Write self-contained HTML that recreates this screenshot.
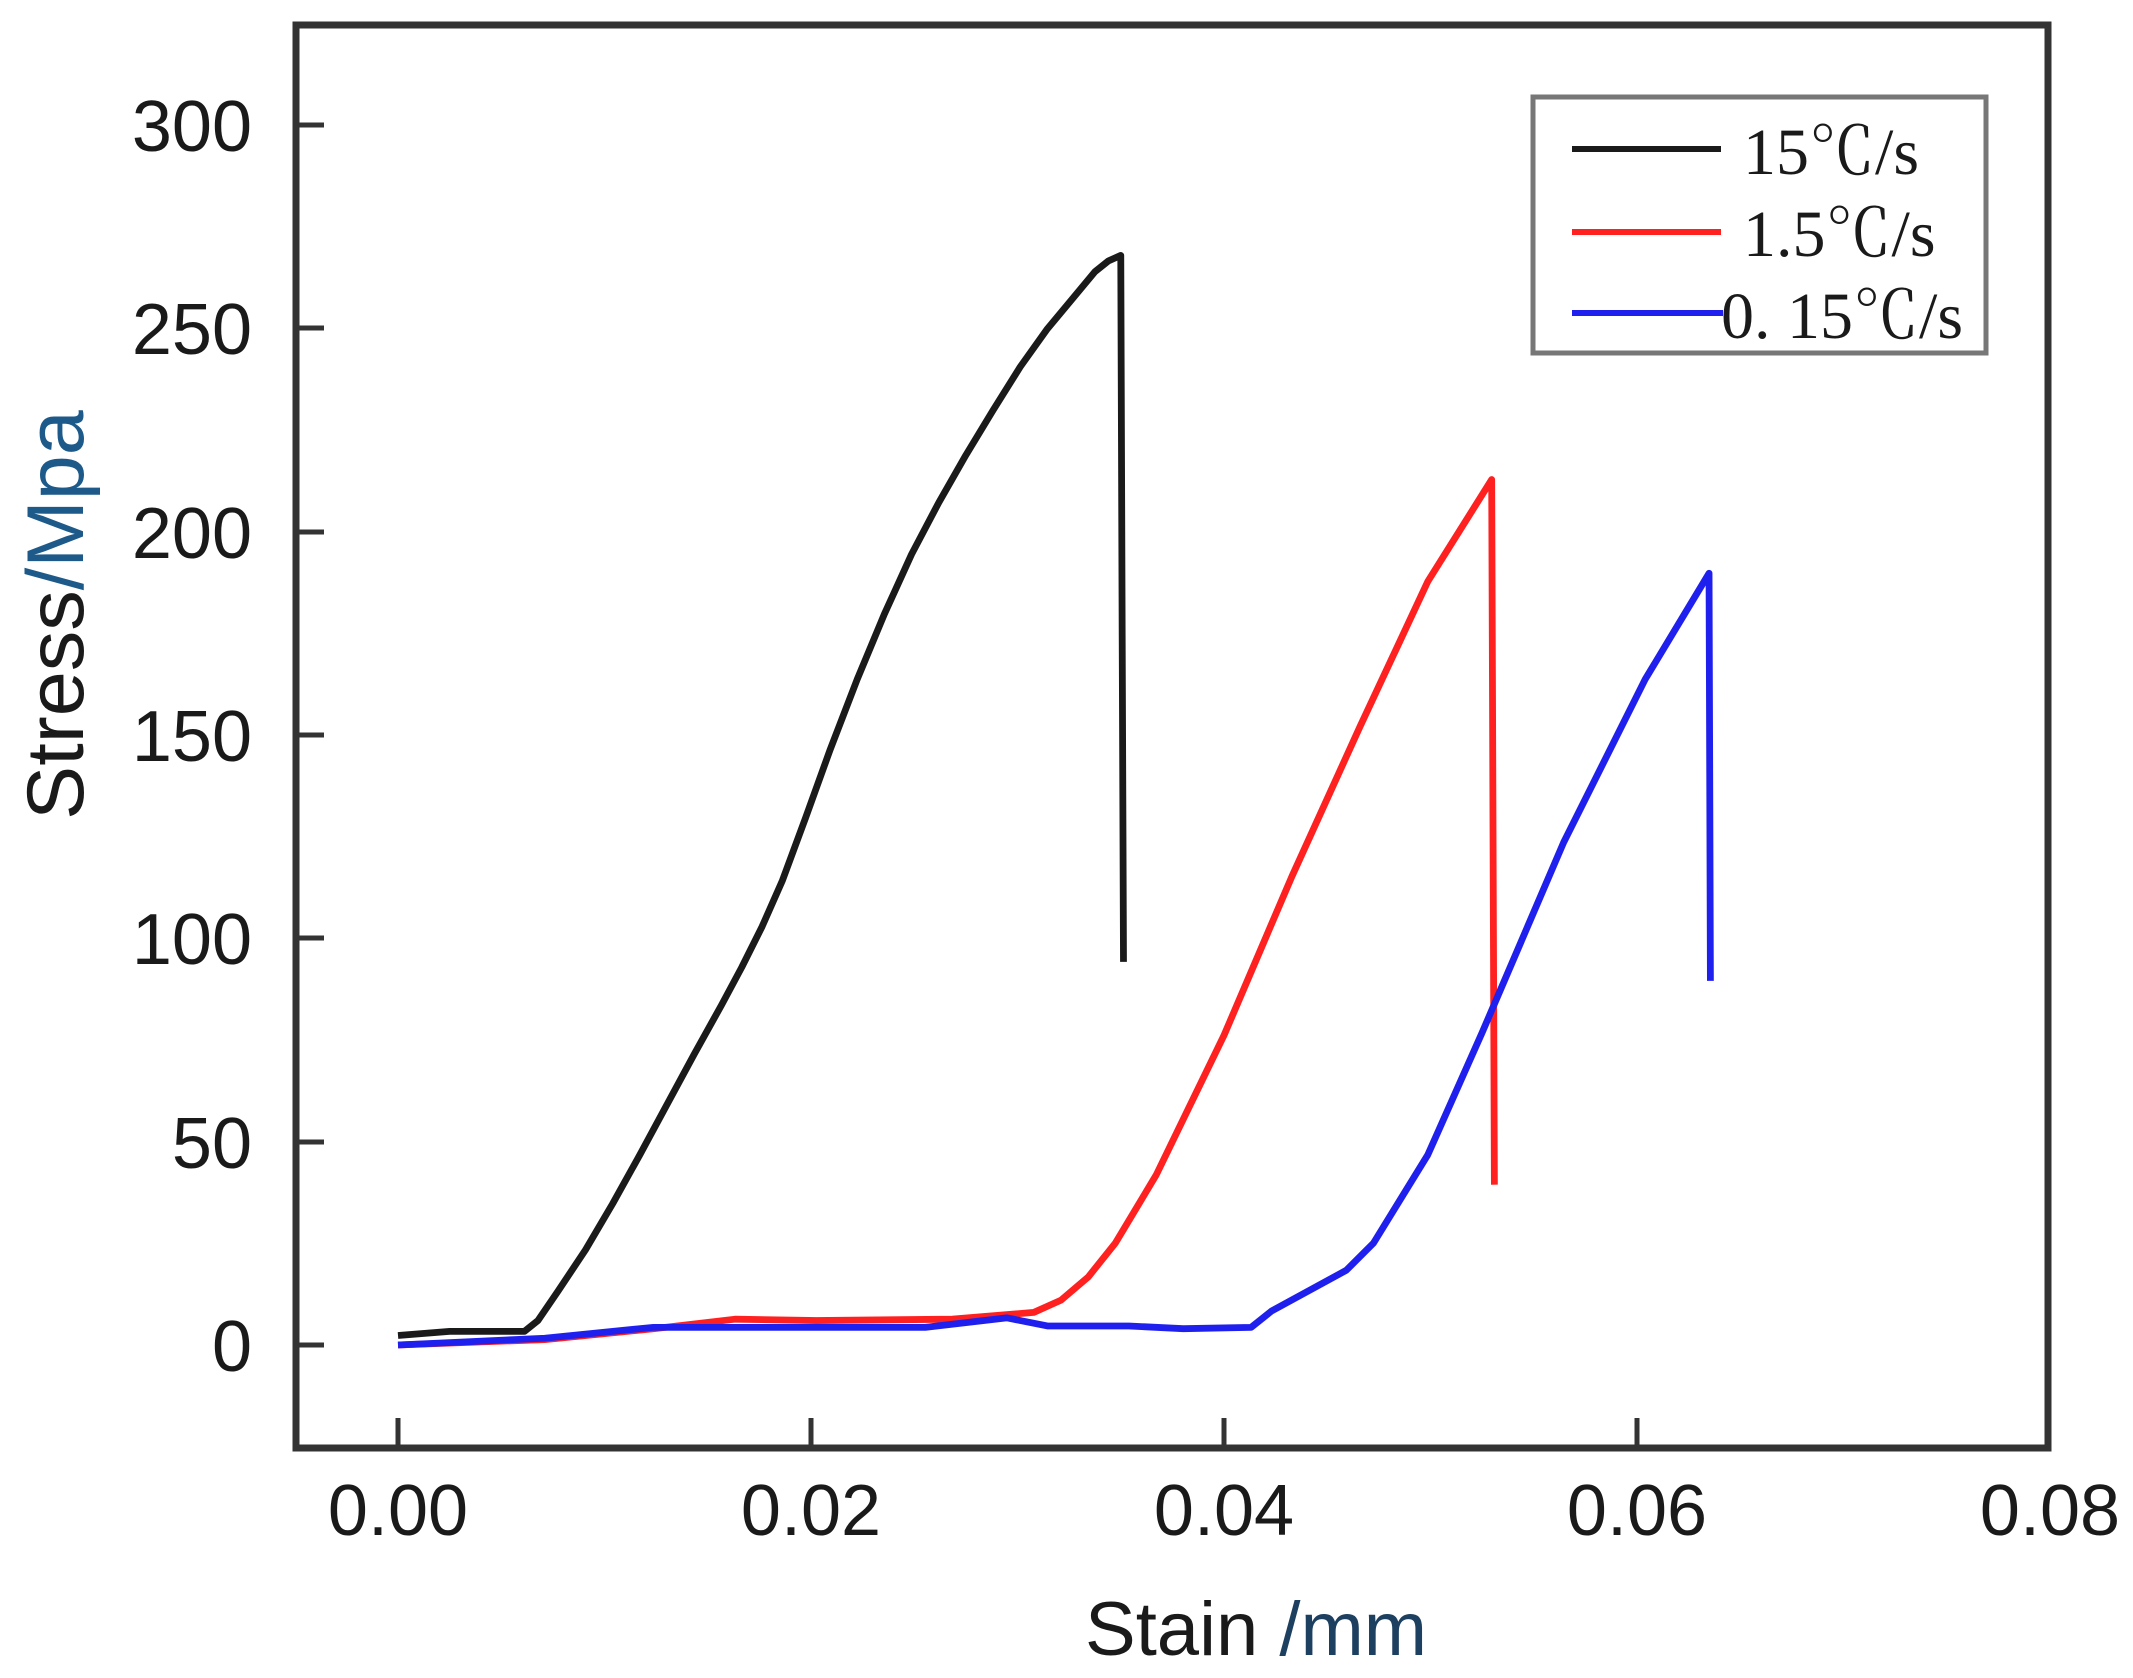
<!DOCTYPE html>
<html><head><meta charset="utf-8"><style>html,body{margin:0;padding:0;background:#fff}svg{display:block}</style></head>
<body>
<svg width="2133" height="1678" viewBox="0 0 2133 1678" xmlns="http://www.w3.org/2000/svg" font-family="'Liberation Sans', sans-serif">
<rect width="2133" height="1678" fill="#fff"/>
<rect x="296" y="25" width="1752" height="1423" fill="none" stroke="#333" stroke-width="7"/>
<g stroke="#333" stroke-width="5">
<line x1="296" y1="1345" x2="324" y2="1345"/>
<line x1="296" y1="1142" x2="324" y2="1142"/>
<line x1="296" y1="938" x2="324" y2="938"/>
<line x1="296" y1="735" x2="324" y2="735"/>
<line x1="296" y1="532" x2="324" y2="532"/>
<line x1="296" y1="328" x2="324" y2="328"/>
<line x1="296" y1="125" x2="324" y2="125"/>
<line x1="398" y1="1448" x2="398" y2="1418"/>
<line x1="811" y1="1448" x2="811" y2="1418"/>
<line x1="1224" y1="1448" x2="1224" y2="1418"/>
<line x1="1637" y1="1448" x2="1637" y2="1418"/>
</g>
<g font-size="72" fill="#1a1a1a" text-anchor="end">
<text x="252" y="1371">0</text>
<text x="252" y="1168">50</text>
<text x="252" y="964">100</text>
<text x="252" y="761">150</text>
<text x="252" y="558">200</text>
<text x="252" y="354">250</text>
<text x="252" y="151">300</text>
</g>
<g font-size="72" fill="#1a1a1a" text-anchor="middle">
<text x="398" y="1535">0.00</text>
<text x="811" y="1535">0.02</text>
<text x="1224" y="1535">0.04</text>
<text x="1637" y="1535">0.06</text>
<text x="2050" y="1535">0.08</text>
</g>
<text x="1085" y="1655" font-size="76" fill="#1a1a1a">Stain <tspan fill="#1d4060">/mm</tspan></text>
<text transform="translate(83,615) rotate(-90)" text-anchor="middle" font-size="81" fill="#1a1a1a">Stress<tspan fill="#1d5a8a">/Mpa</tspan></text>
<g transform="translate(398,1345) scale(1.3586) translate(-292,-990)" fill="none" stroke-width="5" stroke-linejoin="round">
<polyline stroke="#1a1a1a" points="292,983 330,980 385,980 395,972 410,950 430,920 450,886 470,850 490,813 510,776 530,740 545,712 560,682 575,648 592,602 610,552 630,500 650,452 670,408 690,370 710,335 730,302 750,270 770,242 790,218 805,200 815,192 824,188 825,460 826,708"/>
<polyline stroke="#ff2020" points="292,990 400,986 480,978 540,971 600,972 700,971 760,966 780,957 800,940 820,915 850,865 900,762 950,645 1000,535 1050,428 1097,353 1099,872"/>
<polyline stroke="#2020ee" points="292,990 400,985 480,977 680,977 740,970 770,976 830,976 870,978 920,977 935,965 990,935 1010,915 1050,850 1090,760 1150,620 1210,500 1257,422 1258,722"/>
</g>
<rect x="1533" y="97" width="453" height="256" fill="#fff" stroke="#777" stroke-width="5"/>
<line x1="1572" y1="149" x2="1721" y2="149" stroke="#1a1a1a" stroke-width="6"/>
<line x1="1572" y1="232" x2="1721" y2="232" stroke="#ff2020" stroke-width="6"/>
<line x1="1572" y1="313" x2="1723" y2="313" stroke="#2020ee" stroke-width="6"/>
<g font-family="'Liberation Serif', 'Noto Serif CJK SC', serif" font-size="66" fill="#1a1a1a">
<text x="1743" y="174">15℃/s</text>
<text x="1743" y="256">1.5℃/s</text>
<text x="1721" y="338">0. 15℃/s</text>
</g>
</svg>
</body></html>
